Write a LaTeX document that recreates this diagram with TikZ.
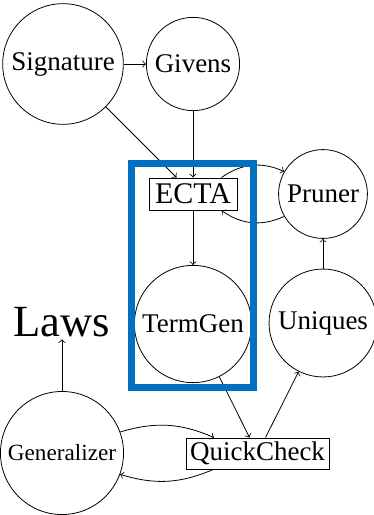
\documentclass[tikz,border=0pt]{standalone}
\usepackage{fontspec}
\setmainfont{Liberation Serif}
\definecolor{frameblue}{RGB}{0,112,192}
\tikzset{
  state/.style={draw,circle,inner sep=3pt,font=\fontsize{13.5}{16}\selectfont},
  stage/.style={draw,rectangle,inner sep=3pt,font=\fontsize{13.5}{16}\selectfont},
}
\begin{document}
\begin{tikzpicture}[x=0.5pt,y=-0.5pt]
      \useasboundingbox (0,0) rectangle (374,515);
      \draw
        (63,64) node[state] (sig){Signature}
        (193,64) node[state] (giv){Givens}
        (193,194) node[stage,font=\fontsize{15}{18}\selectfont] (ecta){ECTA}
        (323,194) node[state] (prun){Pruner}
        (193,324) node[state] (tgen){TermGen}
        (323,323) node[state] (uniq){Uniques}
        (62,322) node[inner sep=1pt,font=\fontsize{22.3}{26}\selectfont] (laws){Laws}
        (62,453) node[state,font=\fontsize{11.6}{14}\selectfont] (gen){Generalizer}
        (257.5,453.5) node[stage,inner sep=2pt] (qc){QuickCheck};
      \begin{scope}[->]
        \draw (sig) to (giv);
        \draw (sig) to (ecta);
        \draw (giv) to (ecta);
        \draw (ecta) to[bend left] (prun);
        \draw (prun) to[bend left] (ecta);
        \draw (ecta) to (tgen);
        \draw (tgen) to (qc);
        \draw (qc) to (uniq);
        \draw (uniq) to (prun);
        \draw (gen) to[bend left=20] (qc);
        \draw (qc) to[bend left=20] (gen);
        \draw (gen) to (laws);
      \end{scope}
      \draw[frameblue,line width=3.5pt] (131.7,163.3) rectangle (253,387.3);
    \end{tikzpicture}
\end{document}
